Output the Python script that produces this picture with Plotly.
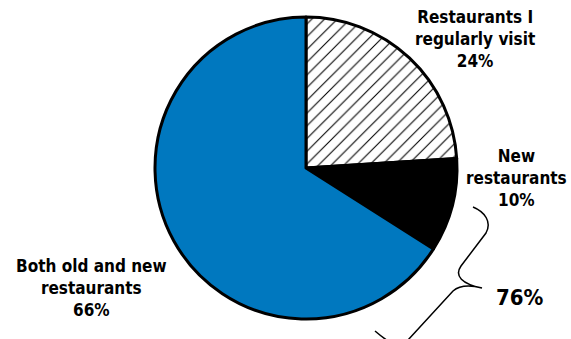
import plotly.graph_objects as go

W, H = 571, 339

labels = ["Restaurants I<br>regularly visit", "New<br>restaurants", "Both old and new<br>restaurants"]
values = [24, 10, 66]
colors = ["white", "black", "#0078BF"]
patterns = ["/", "", ""]
combined_label = "76%"

# label anchor positions (pixels)
label_pos = [(475, 39), (516, 178), (91, 288)]

FONT = "DejaVu Sans Condensed, Liberation Sans Narrow, Arial Narrow, sans-serif"

def px(x, y):
    return x / W, 1 - y / H

cx, cy, r = 306, 168, 151
x0, y1 = px(cx - r, cy - r)
x1, y0 = px(cx + r, cy + r)

fig = go.Figure(go.Pie(
    labels=labels,
    values=values,
    sort=False,
    direction="clockwise",
    rotation=0,
    textinfo="none",
    hoverinfo="label+percent",
    marker=dict(
        colors=colors,
        line=dict(color="black", width=3),
        pattern=dict(shape=patterns, fgcolor="black", bgcolor=colors, size=9, solidity=0.12),
    ),
    domain=dict(x=[x0, x1], y=[y0, y1]),
    showlegend=False,
))

total = sum(values)
for lab, v, (lx, ly) in zip(labels, values, label_pos):
    ax, ay = px(lx, ly)
    fig.add_annotation(
        x=ax, y=ay, xref="paper", yref="paper",
        text=f"<b>{lab}<br>{round(100 * v / total)}%</b>",
        showarrow=False, align="center", xanchor="center", yanchor="middle",
        font=dict(family=FONT, size=17, color="black"),
    )

ax, ay = px(520, 297)
fig.add_annotation(
    x=ax, y=ay, xref="paper", yref="paper",
    text=f"<b>{combined_label}</b>", showarrow=False,
    xanchor="center", yanchor="middle",
    font=dict(family=FONT, size=22, color="black"),
)

# curly brace (pixel coords converted to paper)
def P(x, y):
    a, b = px(x, y)
    return f"{a:.5f},{b:.5f}"

path = (
    f"M {P(473,207)} C {P(485,212)} {P(492,222)} {P(486,233)} "
    f"L {P(461,266)} C {P(454,276)} {P(462,284)} {P(482,288)} "
    f"C {P(470,285)} {P(460,285)} {P(453,291)} "
    f"L {P(408,340)} C {P(398,350)} {P(388,342)} {P(375,331)}"
)
fig.add_shape(type="path", path=path, xref="paper", yref="paper",
              line=dict(color="black", width=1.5))

fig.update_layout(
    width=W, height=H,
    margin=dict(l=0, r=0, t=0, b=0),
    paper_bgcolor="white", plot_bgcolor="white",
)

fig.write_html("out.html")
